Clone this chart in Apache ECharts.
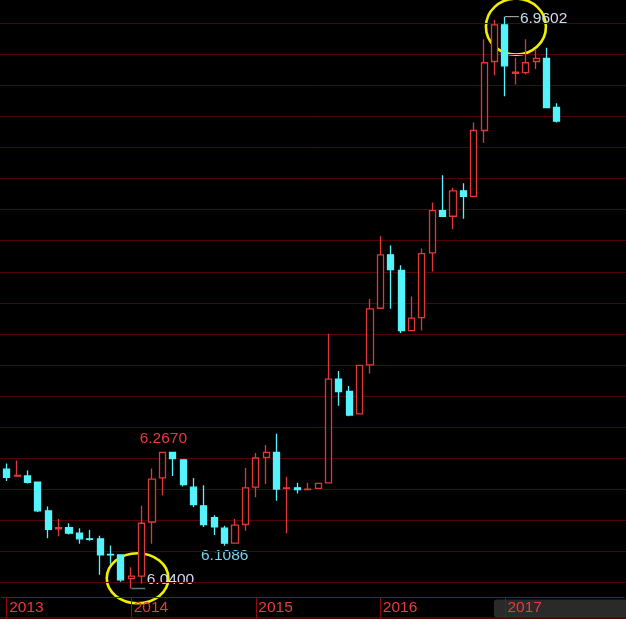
<!DOCTYPE html>
<html><head><meta charset="utf-8">
<script src="https://cdn.jsdelivr.net/npm/echarts@6/dist/echarts.min.js"></script>
<style>html,body{margin:0;padding:0;background:#000;}#c{width:626px;height:619px;}</style>
</head><body><div id="c"></div>
<script>
const months = [
 '2013-01','2013-02','2013-03','2013-04','2013-05','2013-06','2013-07','2013-08','2013-09','2013-10','2013-11','2013-12',
 '2014-01','2014-02','2014-03','2014-04','2014-05','2014-06','2014-07','2014-08','2014-09','2014-10','2014-11','2014-12',
 '2015-01','2015-02','2015-03','2015-04','2015-05','2015-06','2015-07','2015-08','2015-09','2015-10','2015-11','2015-12',
 '2016-01','2016-02','2016-03','2016-04','2016-05','2016-06','2016-07','2016-08','2016-09','2016-10','2016-11','2016-12',
 '2017-01','2017-02','2017-03','2017-04','2017-05','2017-06','2017-07','2017-08','2017-09','2017-10','2017-11','2017-12'];
const openV = [6.232,6.221,6.221,6.211,6.165,6.136,6.138,6.129,6.120,6.120,6.095,6.094,
 6.056,6.060,6.147,6.218,6.259,6.247,6.203,6.173,6.154,6.137,6.113,6.143,
 6.203,6.251,6.259,6.201,6.202,6.199,6.201,6.210,6.377,6.357,6.321,6.400,
 6.491,6.577,6.552,6.455,6.476,6.580,6.648,6.639,6.680,6.671,6.777,6.888,
 6.947,6.869,6.870,6.888,6.893,6.814];
const closeV = [6.219,6.222,6.211,6.165,6.135,6.138,6.129,6.120,6.119,6.094,6.094,6.054,
 6.060,6.145,6.216,6.259,6.249,6.207,6.175,6.143,6.139,6.113,6.142,6.202,
 6.250,6.259,6.200,6.202,6.199,6.200,6.209,6.377,6.357,6.319,6.399,6.490,
 6.577,6.553,6.455,6.475,6.579,6.648,6.639,6.680,6.671,6.777,6.886,6.947,
 6.881,6.871,6.886,6.893,6.814,6.792];
const lowV = [6.213,6.220,6.209,6.163,6.121,6.124,6.127,6.112,6.117,6.062,6.080,6.051,
 6.040,6.048,6.112,6.190,6.221,6.204,6.171,6.139,6.126,6.1086,6.113,6.133,
 6.187,6.208,6.181,6.129,6.193,6.198,6.201,6.209,6.334,6.317,6.320,6.386,
 6.490,6.490,6.451,6.455,6.455,6.550,6.639,6.618,6.635,6.670,6.757,6.866,
 6.832,6.851,6.867,6.876,6.813,6.790];
const highV = [6.241,6.246,6.230,6.212,6.172,6.152,6.145,6.137,6.134,6.125,6.109,6.095,
 6.074,6.173,6.233,6.260,6.260,6.248,6.218,6.206,6.158,6.141,6.152,6.234,
 6.258,6.271,6.289,6.220,6.210,6.210,6.210,6.450,6.390,6.366,6.400,6.506,
 6.607,6.592,6.560,6.510,6.587,6.661,6.705,6.685,6.692,6.790,6.924,6.955,
 6.9602,6.894,6.924,6.907,6.910,6.821];
const gridLevels = [6.05,6.10,6.15,6.20,6.25,6.30,6.35,6.40,6.45,6.50,6.55,6.60,6.65,6.70,6.75,6.80,6.85,6.90,6.95];
const yMin = 6.0255, yMax = 6.987;
// annotations: [category index, value, text]
const maxNote = [48, 6.9602, '6.9602'];
const minNote = [12, 6.0400, '6.0400'];
const localHigh = [15, 6.260, '6.2670'];
const localLow = [21, 6.1086, '6.1086'];

const FONT = '"Liberation Sans", Arial, sans-serif';
const RED = '#e0383a', CYAN = '#55f3fb', AXIS = '#8e0c0c', GRIDC = '#540303';
const chart = echarts.init(document.getElementById('c'));
const candles = openV.map((o, i) => [o, closeV[i], lowV[i], highV[i]]);

chart.setOption({
  backgroundColor: '#000',
  animation: false,
  grid: {left: 1.5, right: 1.7, top: 0, bottom: 21.5},
  xAxis: {
    type: 'category', data: months, boundaryGap: true,
    axisLine: {lineStyle: {color: AXIS, width: 1}},
    axisTick: {show: true, alignWithLabel: true, interval: (i) => i % 12 === 0, length: 21, lineStyle: {color: AXIS}},
    axisLabel: {interval: (i) => i % 12 === 0, formatter: (v) => v.slice(0, 4), align: 'left', padding: [0, 0, 0, 2.5],
      margin: 2, color: '#ea3a3c', fontSize: 15.5, fontFamily: FONT},
    splitLine: {show: false}
  },
  yAxis: {type: 'value', min: yMin, max: yMax, show: false, splitLine: {show: false}},
  series: [
    {
      type: 'custom', z: 1, silent: true,
      data: gridLevels.map(v => [0, v]),
      encode: {x: 0, y: 1},
      renderItem: (params, api) => {
        const y = Math.round(api.coord([0, api.value(1)])[1]) + 0.5;
        const cs = params.coordSys;
        return {type: 'line', shape: {x1: 0, y1: y, x2: cs.x + cs.width + 2, y2: y},
          style: {stroke: GRIDC, lineWidth: 1}};
      }
    },
    {
      type: 'candlestick', z: 3, data: candles, barWidth: 6.6,
      itemStyle: {color: '#000', color0: CYAN, borderColor: RED, borderColor0: CYAN, borderWidth: 1.3}
    }
  ]
});

function px(idx, val) { return chart.convertToPixel({seriesIndex: 1}, [idx, val]); }
const pMax = px(maxNote[0], maxNote[1]);
const pMin = px(minNote[0], minNote[1]);
const pHi = px(localHigh[0], localHigh[1]);
const pLo = px(localLow[0], localLow[1]);
const p2017 = px(48, yMin);
const textStyle = (t, fill, align) => ({text: t, fill: fill, font: '15.5px ' + FONT,
  textAlign: align, align: align, textVerticalAlign: 'middle', verticalAlign: 'middle'});

chart.setOption({
  graphic: [
    {type: 'rect', z: -1, shape: {x: p2017[0] - 11, y: p2017[1] + 2, width: 626 - (p2017[0] - 11) + 4, height: 18, r: 3},
      style: {fill: '#2a2a2a'}},
    {type: 'line', shape: {x1: 0, y1: 618, x2: 626, y2: 618}, style: {stroke: AXIS, lineWidth: 1}},
    {type: 'ellipse', shape: {cx: pMax[0] + 11, cy: pMax[1] + 10, rx: 30, ry: 28}, style: {fill: 'none', stroke: '#efef00', lineWidth: 2.6}},
    {type: 'ellipse', shape: {cx: pMin[0] + 6.3, cy: pMin[1] - 10.2, rx: 30.8, ry: 25}, style: {fill: 'none', stroke: '#efef00', lineWidth: 2.6}},
    {type: 'polyline', shape: {points: [[pMax[0], pMax[1]], [pMax[0] + 14, pMax[1]]]}, style: {stroke: '#b8b8b8', lineWidth: 1, fill: 'none'}},
    {type: 'polyline', shape: {points: [[pMin[0], pMin[1]], [pMin[0] + 14, pMin[1]]]}, style: {stroke: '#4e8077', lineWidth: 1.5, fill: 'none'}},
    {type: 'text', x: pMax[0] + 15, y: pMax[1] + 2.4, style: textStyle(maxNote[2], '#cadcf0', 'left')},
    {type: 'text', x: pMin[0] + 15.5, y: pMin[1] - 8.4, style: textStyle(minNote[2], '#cadcf0', 'left')},
    {type: 'text', x: pHi[0] + 1, y: pHi[1] - 13.2, style: textStyle(localHigh[2], '#e8393c', 'center')},
    {type: 'text', x: pLo[0], y: pLo[1] + 9.5, style: textStyle(localLow[2], '#74d8f4', 'center')}
  ]
});
</script></body></html>
